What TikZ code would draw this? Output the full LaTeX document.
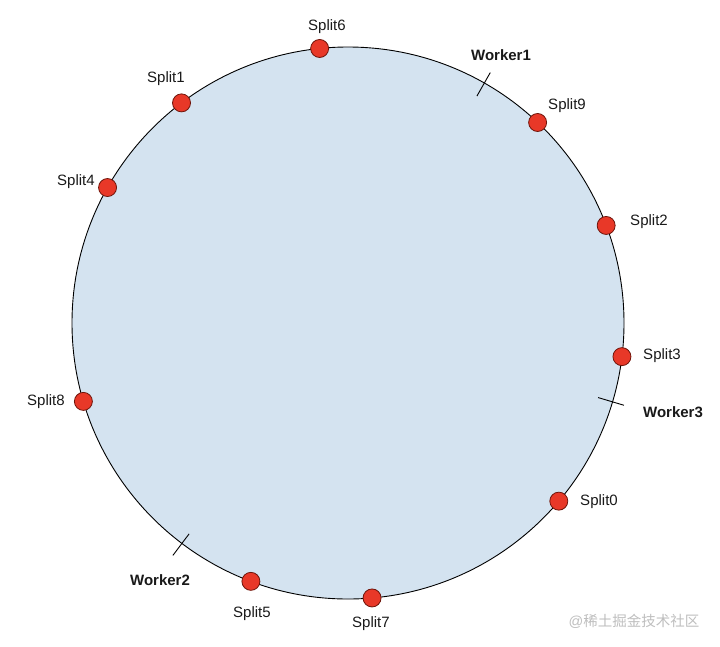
\documentclass[tikz,border=0pt]{standalone}
\usepackage{fontspec}
\setmainfont{Liberation Sans}
\newfontfamily\cjkfont{Noto Sans CJK SC}
\usetikzlibrary{calc}
\definecolor{ringfill}{RGB}{212,227,240}
\definecolor{dotfill}{RGB}{232,56,40}
\definecolor{dotline}{RGB}{110,20,10}
\definecolor{wmark}{RGB}{190,190,190}
\tikzset{
  ringstyle/.style={circle, draw=black, fill=ringfill, line width=0.9pt, minimum size=552pt, inner sep=0pt},
  splitdot/.style={circle, fill=dotfill, draw=dotline, line width=0.8pt, minimum size=18pt, inner sep=0pt},
  lab/.style={font=\fontsize{15}{18}\selectfont, text=black!90, inner sep=0pt},
  wlab/.style={lab, font=\fontsize{15}{18}\selectfont\bfseries},
  tick/.style={draw=black, line width=0.9pt}
}
\begin{document}
\begin{tikzpicture}[x=1pt,y=1pt]
\useasboundingbox (0,0) rectangle (720,-646);
\coordinate (c) at (348,-323);
\node[ringstyle] (ring) at (c) {};
% split dots
\node[splitdot] (s6) at ($(c)+(95.9:276)$) {};
\node[splitdot] (s1) at ($(c)+(127.1:276)$) {};
\node[splitdot] (s4) at ($(c)+(150.6:276)$) {};
\node[splitdot] (s8) at ($(c)+(196.5:276)$) {};
\node[splitdot] (s5) at ($(c)+(249.4:276)$) {};
\node[splitdot] (s7) at ($(c)+(275.0:276)$) {};
\node[splitdot] (s0) at ($(c)+(319.8:276)$) {};
\node[splitdot] (s3) at ($(c)+(353.0:276)$) {};
\node[splitdot] (s2) at ($(c)+(20.7:276)$) {};
\node[splitdot] (s9) at ($(c)+(46.6:276)$) {};
% split labels
\node[lab] (l6) at (327,-27) {Split6};
\node[lab] (l1) at (166,-79) {Split1};
\node[lab] (l4) at (76,-182) {Split4};
\node[lab] (l8) at (46,-402) {Split8};
\node[lab] (l5) at (252,-614) {Split5};
\node[lab] (l7) at (371,-624) {Split7};
\node[lab] (l0) at (599,-502) {Split0};
\node[lab] (l3) at (662,-356) {Split3};
\node[lab] (l2) at (649,-222) {Split2};
\node[lab] (l9) at (567,-106) {Split9};
% worker ticks
\coordinate (w1a) at ($(c)+(60.4:261)$);
\coordinate (w1b) at ($(c)+(60.4:288)$);
\coordinate (w3a) at ($(c)+(-16.6:261)$);
\coordinate (w3b) at ($(c)+(-16.6:288)$);
\coordinate (w2a) at ($(c)+(233:264)$);
\coordinate (w2b) at ($(c)+(233:291)$);
\draw[tick] (w1a) -- (w1b);
\draw[tick] (w3a) -- (w3b);
\draw[tick] (w2a) -- (w2b);
\node[wlab] (wk1) at (501,-55) {Worker1};
\node[wlab] (wk3) at (673,-412) {Worker3};
\node[wlab] (wk2) at (160,-580) {Worker2};
% watermark
\node[inner sep=0pt, text=wmark, font=\fontsize{14.5}{17}\selectfont] (wm) at (634,-621) {@{\cjkfont 稀土掘金技术社区}};
\end{tikzpicture}
\end{document}
